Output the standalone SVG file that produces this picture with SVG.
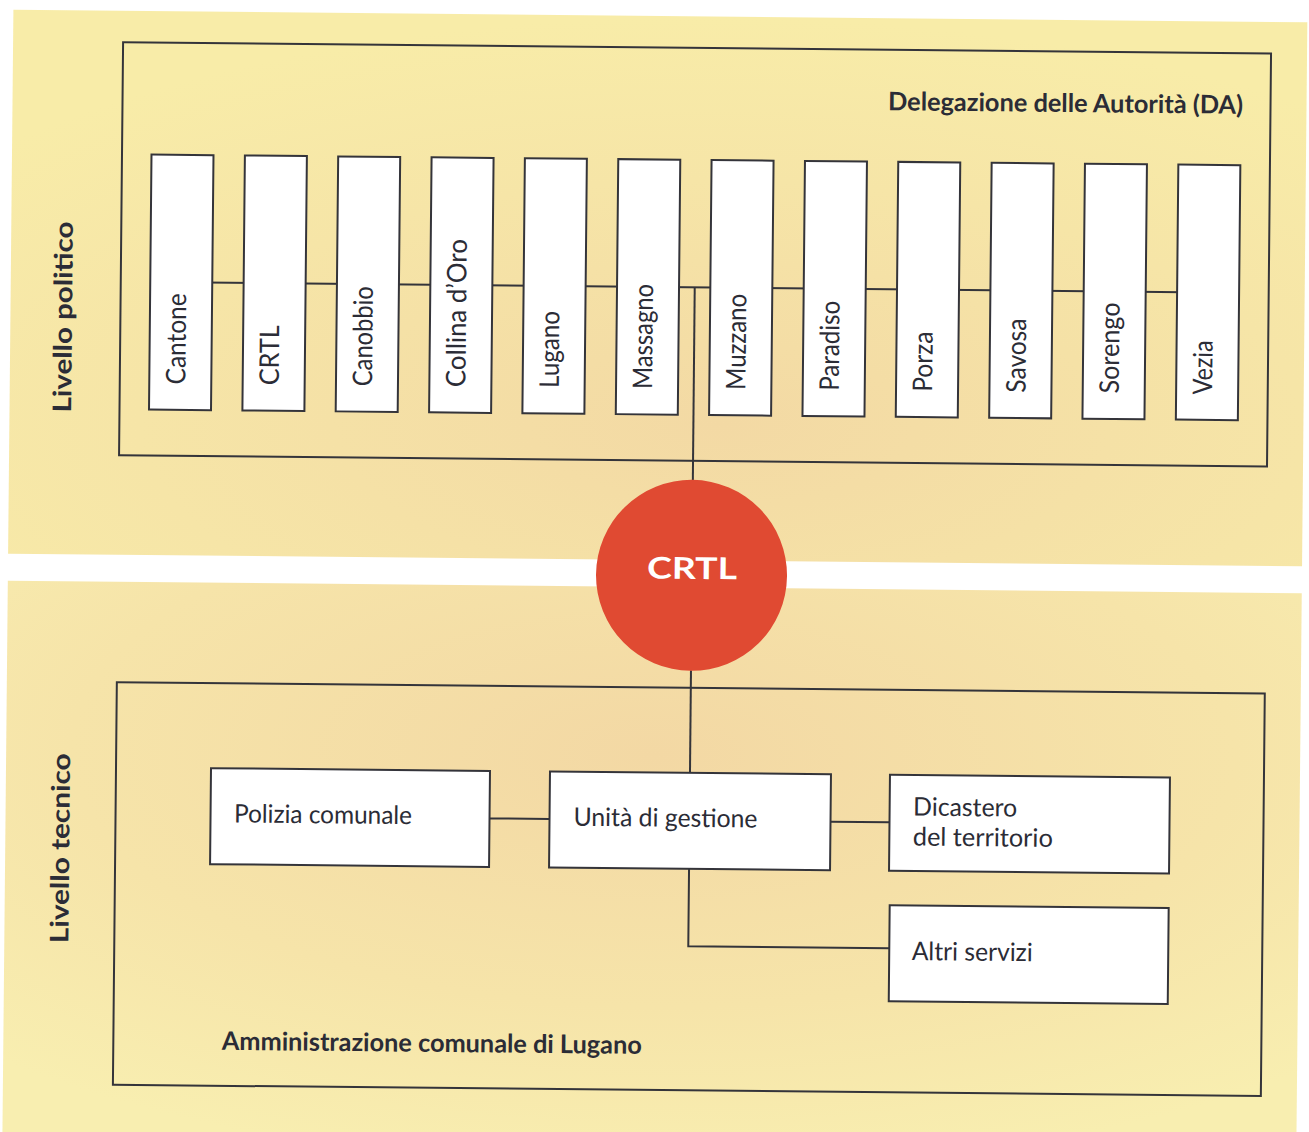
<svg xmlns="http://www.w3.org/2000/svg" width="1309" height="1132" viewBox="0 0 1309 1132">
<defs>
<radialGradient id="bgTop" cx="0.55" cy="0.75" r="0.75">
<stop offset="0" stop-color="#f3d9a4"/>
<stop offset="0.6" stop-color="#f6e5a7"/>
<stop offset="1" stop-color="#f8eca8"/>
</radialGradient>
<radialGradient id="bgBot" cx="0.5" cy="0.3" r="0.75">
<stop offset="0" stop-color="#f3d8a4"/>
<stop offset="0.6" stop-color="#f6e4a9"/>
<stop offset="1" stop-color="#f8eeb0"/>
</radialGradient>
<style>
.box{fill:#ffffff;stroke:#34343a;stroke-width:2}
.frame{fill:none;stroke:#34343a;stroke-width:2}
.line{fill:none;stroke:#34343a;stroke-width:2}
.lbl{font-family:Lato,"Liberation Sans",sans-serif;font-size:27px;fill:#2b2c36;font-weight:400}
.lbl2{font-family:Lato,"Liberation Sans",sans-serif;font-size:25.5px;fill:#2b2c36;font-weight:400}
.bold{font-family:Lato,"Liberation Sans",sans-serif;font-size:25.5px;fill:#2b2c36;font-weight:700}
.crtl{font-family:Lato,"Liberation Sans",sans-serif;font-size:30px;fill:#ffffff;font-weight:700}
</style>
</defs>
<rect x="0" y="0" width="1309" height="1132" fill="#ffffff"/>
<g transform="rotate(0.56 654 566)">
<g id="panels">
<rect x="8" y="16" width="1294" height="544" fill="url(#bgTop)"/>
<rect x="8" y="587" width="1294" height="560" fill="url(#bgBot)"/>
</g>
<g id="frames">
<rect class="frame" x="118" y="47.5" width="1148" height="413"/>
<rect class="frame" x="118" y="687.5" width="1148" height="402.5"/>
</g>
<g id="connectors">
<line class="line" x1="178" y1="287" x2="1205" y2="287"/>
<line class="line" x1="692" y1="287" x2="692" y2="480"/>
<line class="line" x1="692" y1="670" x2="692" y2="772.5"/>
<line class="line" x1="492" y1="820" x2="552" y2="820"/>
<line class="line" x1="833" y1="820" x2="892" y2="820"/>
<polyline class="line" points="692,868.5 692,946 893,946"/>
</g>
<g id="group-labels">
<text class="bold" x="883.5" y="108" textLength="355" lengthAdjust="spacingAndGlyphs">Delegazione delle Autorità (DA)</text>
<text class="bold" x="226.5" y="1054" textLength="420" lengthAdjust="spacingAndGlyphs">Amministrazione comunale di Lugano</text>
<text class="bold" x="69.6" y="322.7" text-anchor="middle" transform="rotate(-90 69.6 322.7)" textLength="191" lengthAdjust="spacingAndGlyphs">Livello politico</text>
<text class="bold" x="72" y="854" text-anchor="middle" transform="rotate(-90 72 854)" textLength="190" lengthAdjust="spacingAndGlyphs">Livello tecnico</text>
</g>
<g id="n-cantone"><rect class="box" x="147.5" y="159.5" width="62" height="255"/><text class="lbl" x="183.5" y="389" transform="rotate(-90 183.5 389)" textLength="91" lengthAdjust="spacingAndGlyphs">Cantone</text></g>
<g id="n-crtl"><rect class="box" x="240.9" y="159.5" width="62" height="255"/><text class="lbl" x="276.9" y="389" transform="rotate(-90 276.9 389)" textLength="60" lengthAdjust="spacingAndGlyphs">CRTL</text></g>
<g id="n-canobbio"><rect class="box" x="334.2" y="159.5" width="62" height="255"/><text class="lbl" x="370.2" y="389" transform="rotate(-90 370.2 389)" textLength="100" lengthAdjust="spacingAndGlyphs">Canobbio</text></g>
<g id="n-collina"><rect class="box" x="427.6" y="159.5" width="62" height="255"/><text class="lbl" x="463.6" y="389" transform="rotate(-90 463.6 389)" textLength="148" lengthAdjust="spacingAndGlyphs">Collina d’Oro</text></g>
<g id="n-lugano"><rect class="box" x="520.9" y="159.5" width="62" height="255"/><text class="lbl" x="556.9" y="389" transform="rotate(-90 556.9 389)" textLength="77" lengthAdjust="spacingAndGlyphs">Lugano</text></g>
<g id="n-massagno"><rect class="box" x="614.3" y="159.5" width="62" height="255"/><text class="lbl" x="650.3" y="389" transform="rotate(-90 650.3 389)" textLength="105" lengthAdjust="spacingAndGlyphs">Massagno</text></g>
<g id="n-muzzano"><rect class="box" x="707.6" y="159.5" width="62" height="255"/><text class="lbl" x="743.6" y="389" transform="rotate(-90 743.6 389)" textLength="96" lengthAdjust="spacingAndGlyphs">Muzzano</text></g>
<g id="n-paradiso"><rect class="box" x="801" y="159.5" width="62" height="255"/><text class="lbl" x="837" y="389" transform="rotate(-90 837 389)" textLength="90" lengthAdjust="spacingAndGlyphs">Paradiso</text></g>
<g id="n-porza"><rect class="box" x="894.3" y="159.5" width="62" height="255"/><text class="lbl" x="930.3" y="389" transform="rotate(-90 930.3 389)" textLength="60" lengthAdjust="spacingAndGlyphs">Porza</text></g>
<g id="n-savosa"><rect class="box" x="987.7" y="159.5" width="62" height="255"/><text class="lbl" x="1023.7" y="389" transform="rotate(-90 1023.7 389)" textLength="74" lengthAdjust="spacingAndGlyphs">Savosa</text></g>
<g id="n-sorengo"><rect class="box" x="1081" y="159.5" width="62" height="255"/><text class="lbl" x="1117" y="389" transform="rotate(-90 1117 389)" textLength="91" lengthAdjust="spacingAndGlyphs">Sorengo</text></g>
<g id="n-vezia"><rect class="box" x="1174.4" y="159.5" width="62" height="255"/><text class="lbl" x="1210.4" y="389" transform="rotate(-90 1210.4 389)" textLength="54" lengthAdjust="spacingAndGlyphs">Vezia</text></g>
<g id="n-crtl-center"><circle cx="691.6" cy="575" r="95.5" fill="#e04a32"/><text class="crtl" x="692" y="578.5" text-anchor="middle" textLength="90" lengthAdjust="spacingAndGlyphs">CRTL</text></g>
<g id="n-polizia"><rect class="box" x="213" y="772.5" width="279" height="96"/><text class="lbl2" x="236.5" y="826.5" textLength="178" lengthAdjust="spacingAndGlyphs">Polizia comunale</text></g>
<g id="n-unita"><rect class="box" x="552" y="772.5" width="281" height="96"/><text class="lbl2" x="576" y="826.5" textLength="184" lengthAdjust="spacingAndGlyphs">Unità di gestione</text></g>
<g id="n-dicastero"><rect class="box" x="892" y="772.5" width="280" height="96"/><text class="lbl2" x="915.5" y="813" textLength="104" lengthAdjust="spacingAndGlyphs">Dicastero</text><text class="lbl2" x="915.5" y="843" textLength="140" lengthAdjust="spacingAndGlyphs">del territorio</text></g>
<g id="n-altri"><rect class="box" x="893" y="903" width="279" height="96"/><text class="lbl2" x="915.5" y="957.5" textLength="121" lengthAdjust="spacingAndGlyphs">Altri servizi</text></g>
</g>
</svg>
